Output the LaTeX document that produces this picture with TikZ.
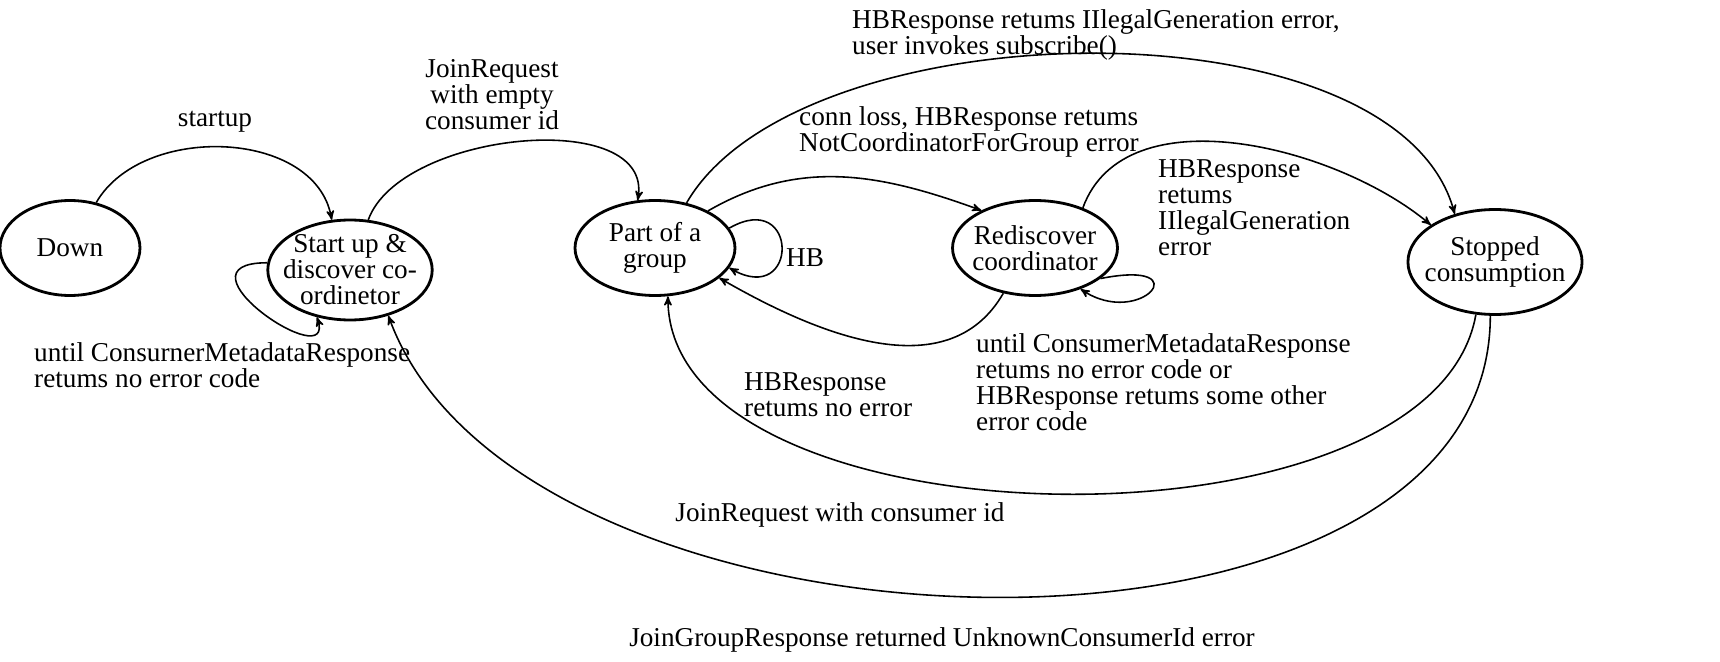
\documentclass[tikz,border=0pt]{standalone}
\usepackage{fontspec}
\setmainfont{Liberation Serif}
\usetikzlibrary{shapes.geometric,arrows}
\tikzset{
  state/.style={ellipse,draw,line width=1.6pt,align=center,inner xsep=-5pt,inner ysep=-3pt},
  trans/.style={-stealth',line width=0.9pt},
  lbl/.style={align=left}
}
\begin{document}
\begin{tikzpicture}[x=0.02cm,y=-0.02cm,font=\fontsize{15.5}{14.8}\selectfont]
\useasboundingbox (0,0) rectangle (1720,662);
% states
\node[state,minimum width=2.8cm,minimum height=1.9cm] (down) at (70,248) {Down};
\node[state,minimum width=3.0cm,minimum height=2.0cm] (start) at (350,270) {Start up \&\\discover co-\\ordinetor};
\node[state,minimum width=3.2cm,minimum height=1.9cm] (part) at (655,248) {Part of a\\group};
\node[state,minimum width=3.3cm,minimum height=1.9cm] (redis) at (1035,248) {Rediscover\\coordinator};
\node[state,minimum width=3.2cm,minimum height=2.1cm] (stop) at (1495,262) {Stopped\\consumption};
% transitions
\draw[trans] (down.60) to[out=60,in=100,looseness=1] (start.110);
\draw[trans] (start.175) .. controls +(-100,0) and +(20,60) .. (start.235);
\draw[trans] (start.70) to[out=70,in=80,looseness=0.9] (part.110);
\draw[trans] (part.15) .. controls +(70,-40) and +(70,40) .. (part.345);
\draw[trans] (part.35) to[out=30,in=160,looseness=1] (redis.145);
\draw[trans] (part.55) to[out=60,in=105,looseness=0.75] (stop.130);
\draw[trans] (redis.40) to[out=70,in=140,looseness=0.9] (stop.150);
\draw[trans] (redis.335) .. controls +(100,-20) and +(60,40) .. (redis.318);
\draw[trans] (redis.235) to[out=240,in=330,looseness=1] (part.335);
\draw[trans] (stop.250) to[out=260,in=270,looseness=0.8] (part.285);
\draw[trans] (stop.265) to[out=270,in=290,looseness=0.9] (start.310);
% labels
\node[lbl] (lstart) at (215,122) {startup};
\node[lbl,anchor=north west] (lloop1) at (28,336) {until ConsurnerMetadataResponse\\retums no error code};
\node[lbl,align=center] (ljoin) at (492,95) {JoinRequest\\with empty\\consumer id};
\node[lbl] (lhb) at (805,258) {HB};
\node[lbl,anchor=north west] (lconn) at (793,100) {conn loss, HBResponse retums\\NotCoordinatorForGroup error};
\node[lbl,anchor=north west] (lillegal) at (846,3) {HBResponse retums IIlegalGeneration error,\\user invokes subscribe()};
\node[lbl,anchor=north west] (lillegal2) at (1152,153) {HBResponse\\retums\\IIlegalGeneration\\error};
\node[lbl,anchor=north west] (lloop2) at (970,327) {until ConsumerMetadataResponse\\retums no error code or\\HBResponse retums some other\\error code};
\node[lbl,anchor=north west] (lnoerr) at (738,366) {HBResponse\\retums no error};
\node[lbl] (ljoinid) at (840,515) {JoinRequest with consumer id};
\node[lbl] (lunknown) at (942,640) {JoinGroupResponse returned UnknownConsumerId error};
\end{tikzpicture}
\end{document}
